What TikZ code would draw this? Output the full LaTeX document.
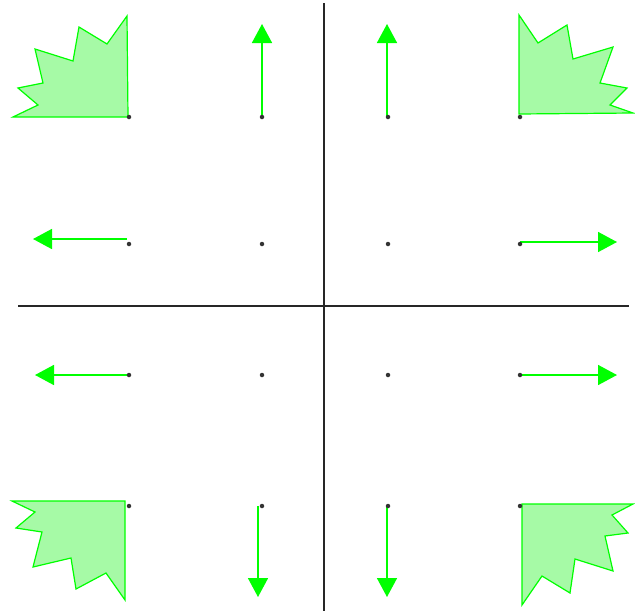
\documentclass[tikz,border=0pt]{standalone}
\usetikzlibrary{arrows.meta}
\definecolor{vg}{rgb}{0,1,0}
\definecolor{vgfill}{rgb}{0.65,0.98,0.65}
\definecolor{dotc}{rgb}{0.2,0.2,0.2}
\tikzset{
  axis/.style={line width=2pt,black!85},
  vec/.style={line width=1.6pt,vg,-{Triangle[length=19pt,width=20pt]}},
  star/.style={line width=1.2pt,draw=vg,fill=vgfill},
  pt/.style={circle,fill=dotc,inner sep=0pt,minimum size=4.5pt}
}
\begin{document}
\begin{tikzpicture}[x=1pt,y=-1pt]
\useasboundingbox (0,0) rectangle (635,614);
% axes
\coordinate (xl) at (18,306);
\coordinate (xr) at (629,306);
\coordinate (yt) at (324,3);
\coordinate (yb) at (324,611);
\draw[axis] (xl) -- (xr);
\draw[axis] (yt) -- (yb);
% star shapes
\draw[star] (128,117) -- (127,16) -- (107,44) -- (79,27) -- (73,61) -- (35,49) -- (43,83) -- (18,88) -- (38,105) -- (13,117) -- cycle;
\draw[star] (519,114) -- (519,15) -- (538,43) -- (567,25) -- (573,59) -- (613,47) -- (600,83) -- (627,88) -- (610,105) -- (633,113) -- cycle;
\draw[star] (125,501) -- (12,501) -- (35,512) -- (16,528) -- (42,532) -- (33,567) -- (71,558) -- (76,589) -- (106,573) -- (125,600) -- cycle;
\draw[star] (522,504) -- (633,504) -- (612,515) -- (628,533) -- (605,536) -- (613,571) -- (575,559) -- (570,593) -- (542,576) -- (522,605) -- cycle;
% arrow tails and tips
\coordinate (t1) at (262,117); \coordinate (h1) at (262,24);
\coordinate (t2) at (387,117); \coordinate (h2) at (387,24);
\coordinate (t3) at (127,239); \coordinate (h3) at (33,239);
\coordinate (t4) at (520,242); \coordinate (h4) at (617,242);
\coordinate (t5) at (129,375); \coordinate (h5) at (35,375);
\coordinate (t6) at (520,375); \coordinate (h6) at (617,375);
\coordinate (t7) at (258,506); \coordinate (h7) at (258,597);
\coordinate (t8) at (387,506); \coordinate (h8) at (387,597);
\foreach \i in {1,...,8} \draw[vec] (t\i) -- (h\i);
% grid points
\foreach \x [count=\i] in {129,262,388,520}
  \foreach \y [count=\j] in {117,244,375,506}
    \node[pt] (p\i\j) at (\x,\y) {};
\end{tikzpicture}
\end{document}
